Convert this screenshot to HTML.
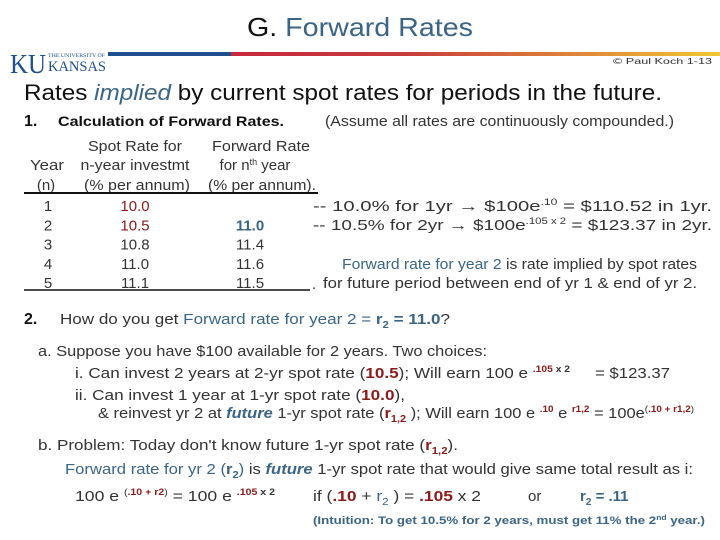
<!DOCTYPE html>
<html><head><meta charset="utf-8">
<style>
html,body{margin:0;padding:0;background:#fff;}
svg{display:block;}
svg text{font-family:"Liberation Sans",Arial,sans-serif;}
svg text.serif{font-family:"Liberation Serif",serif;}
.t{fill:#333;font-size:15px;}
.b{fill:#3a6587;}
.r{fill:#8b1a1a;}
</style></head>
<body>
<svg id="slide" width="720" height="540" viewBox="0 0 720 540" xmlns="http://www.w3.org/2000/svg">
<defs>
<linearGradient id="bar" x1="0" x2="1">
<stop offset="0" stop-color="#c8283e"/>
<stop offset="0.35" stop-color="#c83a3c"/>
<stop offset="0.7" stop-color="#e0843a"/>
<stop offset="1" stop-color="#f0c830"/>
</linearGradient>
</defs>
<text x="247" y="36" font-size="26" textLength="226" lengthAdjust="spacingAndGlyphs" fill="#111">G.  <tspan class="b">Forward Rates</tspan></text>

<g>
<text class="serif" x="10" y="73" font-size="27" fill="#1d4f91" textLength="36" lengthAdjust="spacingAndGlyphs">KU</text>
<text class="serif" x="48" y="57" font-size="5" fill="#1d4f91" textLength="57" lengthAdjust="spacingAndGlyphs">THE UNIVERSITY OF</text>
<text class="serif" x="48" y="71" font-size="15" fill="#1d4f91" textLength="58" lengthAdjust="spacingAndGlyphs">KANSAS</text>
</g>
<rect x="108" y="52" width="124" height="4" fill="#1d4f91"/>
<rect x="231" y="52" width="489" height="4" fill="url(#bar)"/>
<text x="613" y="64" font-size="8" fill="#333" textLength="99" lengthAdjust="spacingAndGlyphs">© Paul Koch 1-13</text>

<text x="24" y="100" font-size="22" fill="#111" textLength="638" lengthAdjust="spacingAndGlyphs">Rates <tspan class="b" font-style="italic">implied</tspan>  by current spot rates for periods in the future.</text>

<text x="24" y="126" font-size="16" font-weight="bold" fill="#111">1.</text>
<text x="58" y="126" font-size="14" font-weight="bold" fill="#111" textLength="226" lengthAdjust="spacingAndGlyphs">Calculation of Forward Rates.</text>
<text x="325" y="126" class="t" textLength="349" lengthAdjust="spacingAndGlyphs">(Assume all rates are continuously compounded.)</text>

<g class="t">
<text x="135" y="151" text-anchor="middle" textLength="94" lengthAdjust="spacingAndGlyphs">Spot Rate for</text>
<text x="261" y="151" text-anchor="middle" textLength="98" lengthAdjust="spacingAndGlyphs">Forward Rate</text>
<text x="47" y="170" text-anchor="middle" textLength="34" lengthAdjust="spacingAndGlyphs">Year</text>
<text x="135" y="170" text-anchor="middle" textLength="109" lengthAdjust="spacingAndGlyphs">n-year investmt</text>
<text x="255" y="170" text-anchor="middle">for n<tspan font-size="9" dy="-5">th</tspan><tspan dy="5"> year</tspan></text>
<text x="46" y="190" text-anchor="middle">(n)</text>
<text x="137" y="190" text-anchor="middle" textLength="106" lengthAdjust="spacingAndGlyphs">(% per annum)</text>
<text x="262" y="190" text-anchor="middle" textLength="108" lengthAdjust="spacingAndGlyphs">(% per annum).</text>
<line x1="24" y1="193" x2="318" y2="193" stroke="#111" stroke-width="2"/>
<g id="rows"></g>
<line x1="24" y1="290" x2="310" y2="290" stroke="#111" stroke-width="1.5"/>
<text x="312" y="289">.</text>
</g>

<text x="313" y="211" class="t" textLength="399" lengthAdjust="spacingAndGlyphs">--  10.0% for  1yr  →  $100e<tspan font-size="9" dy="-6">.10</tspan><tspan dy="6">       =  $110.52  in  1yr.</tspan></text>
<text x="313" y="230" class="t" textLength="399" lengthAdjust="spacingAndGlyphs">--  10.5% for  2yr  →  $100e<tspan font-size="9" dy="-6">.105 x 2</tspan><tspan dy="6">  =  $123.37  in  2yr.</tspan></text>
<text x="342" y="269" class="t" textLength="355" lengthAdjust="spacingAndGlyphs"><tspan class="b">Forward rate for  year 2</tspan>  is rate implied by spot rates</text>
<text x="323" y="288" class="t" textLength="374" lengthAdjust="spacingAndGlyphs">for future period between  end of yr 1  &amp;  end of yr 2.</text>

<text x="24" y="324" font-size="16" font-weight="bold" fill="#111">2.</text>
<text x="60" y="324" class="t" textLength="390" lengthAdjust="spacingAndGlyphs">How do you get  <tspan class="b">Forward rate for year 2  =  <tspan font-weight="bold">r</tspan><tspan font-size="10" font-weight="bold" dy="4">2</tspan><tspan dy="-4" font-weight="bold">  =  11.0</tspan></tspan>?</text>

<text x="38" y="356" class="t" textLength="449" lengthAdjust="spacingAndGlyphs">a.  Suppose you have $100 available for 2 years.  Two choices:</text>
<text x="75" y="378" class="t" textLength="495" lengthAdjust="spacingAndGlyphs">i.   Can invest  2 years at 2-yr spot rate (<tspan class="r" font-weight="bold">10.5</tspan>);    Will earn  100 e <tspan class="r" font-size="9" font-weight="bold" dy="-6">.105</tspan><tspan font-size="9" font-weight="bold"> x 2</tspan><tspan dy="6"></tspan></text>
<text x="595" y="378" class="t" textLength="75" lengthAdjust="spacingAndGlyphs">=  $123.37</text>
<text x="75" y="400" class="t" textLength="330" lengthAdjust="spacingAndGlyphs">ii.  Can invest  1 year   at 1-yr spot rate (<tspan class="r" font-weight="bold">10.0</tspan>),</text>
<text x="98" y="418" class="t" textLength="596" lengthAdjust="spacingAndGlyphs">&amp; reinvest yr 2 at <tspan class="b" font-weight="bold" font-style="italic">future</tspan> 1-yr spot rate (<tspan class="r" font-weight="bold">r</tspan><tspan class="r" font-weight="bold" font-size="10" dy="4">1,2</tspan><tspan dy="-4"> );  Will earn  100 e </tspan><tspan class="r" font-weight="bold" font-size="9" dy="-6">.10</tspan><tspan dy="6"> e </tspan><tspan class="r" font-weight="bold" font-size="9" dy="-6">r1,2</tspan><tspan dy="6">  =  100e</tspan><tspan font-size="9" dy="-6">(</tspan><tspan class="r" font-weight="bold" font-size="9">.10 + r1,2</tspan><tspan font-size="9">)</tspan></text>

<text x="38" y="450" class="t" textLength="420" lengthAdjust="spacingAndGlyphs">b.  Problem:  Today don't know future 1-yr spot rate  (<tspan class="r" font-weight="bold">r</tspan><tspan class="r" font-weight="bold" font-size="10" dy="4">1,2</tspan><tspan dy="-4">).</tspan></text>
<text x="65" y="474" class="t" textLength="628" lengthAdjust="spacingAndGlyphs"><tspan class="b">Forward rate for yr 2 (</tspan><tspan class="b" font-weight="bold">r</tspan><tspan class="b" font-weight="bold" font-size="10" dy="4">2</tspan><tspan class="b" dy="-4">)</tspan> is  <tspan class="b" font-weight="bold" font-style="italic">future</tspan> 1-yr spot rate  that would give same total result as  i:</text>
<text x="75" y="501" class="t" textLength="200" lengthAdjust="spacingAndGlyphs">100 e <tspan font-size="9" dy="-6">(</tspan><tspan class="r" font-weight="bold" font-size="9">.10 + r2</tspan><tspan font-size="9">)</tspan><tspan dy="6">  =  100 e </tspan><tspan class="r" font-weight="bold" font-size="9" dy="-6">.105</tspan><tspan font-weight="bold" font-size="9"> x 2</tspan></text>
<text x="313" y="501" class="t" textLength="168" lengthAdjust="spacingAndGlyphs">if  (<tspan class="r" font-weight="bold">.10</tspan> + <tspan class="b">r</tspan><tspan class="b" font-size="10" dy="4">2</tspan><tspan dy="-4"> )  =  </tspan><tspan class="r" font-weight="bold">.105</tspan> x 2</text>
<text x="528" y="501" class="t">or</text>
<text x="580" y="501" class="t b" font-weight="bold">r<tspan font-size="10" dy="4">2</tspan><tspan dy="-4">  =  .11</tspan></text>
<text x="313" y="524" font-size="11" font-weight="bold" fill="#3a6587" textLength="392" lengthAdjust="spacingAndGlyphs">(Intuition:  To get  10.5%  for  2 years,  must get  11%  the  2<tspan font-size="7" dy="-4">nd</tspan><tspan dy="4">  year.)</tspan></text>
</svg>
<script>
const years = ["1","2","3","4","5"];
const spotRates = ["10.0","10.5","10.8","11.0","11.1"];
const forwardRates = ["","11.0","11.4","11.6","11.5"];
const NS = "http://www.w3.org/2000/svg";
const g = document.getElementById("rows");
years.forEach((y, i) => {
  const base = 211 + i * 19.3;
  const cols = [[48, y, "#333"], [135, spotRates[i], i < 2 ? "#8b1a1a" : "#333"], [250, forwardRates[i], i === 1 ? "#3a6587" : "#333"]];
  cols.forEach((c, j) => {
    if (!c[1]) return;
    const t = document.createElementNS(NS, "text");
    
    
    t.setAttribute("x", c[0]);
    t.setAttribute("y", base);
    t.setAttribute("text-anchor", "middle");
    t.setAttribute("font-size", "15");
    t.setAttribute("fill", c[2]);
    if (i === 1 && j === 2) t.setAttribute("font-weight", "bold");
    t.textContent = c[1];
    g.appendChild(t);
  });
});
</script>
</body></html>
